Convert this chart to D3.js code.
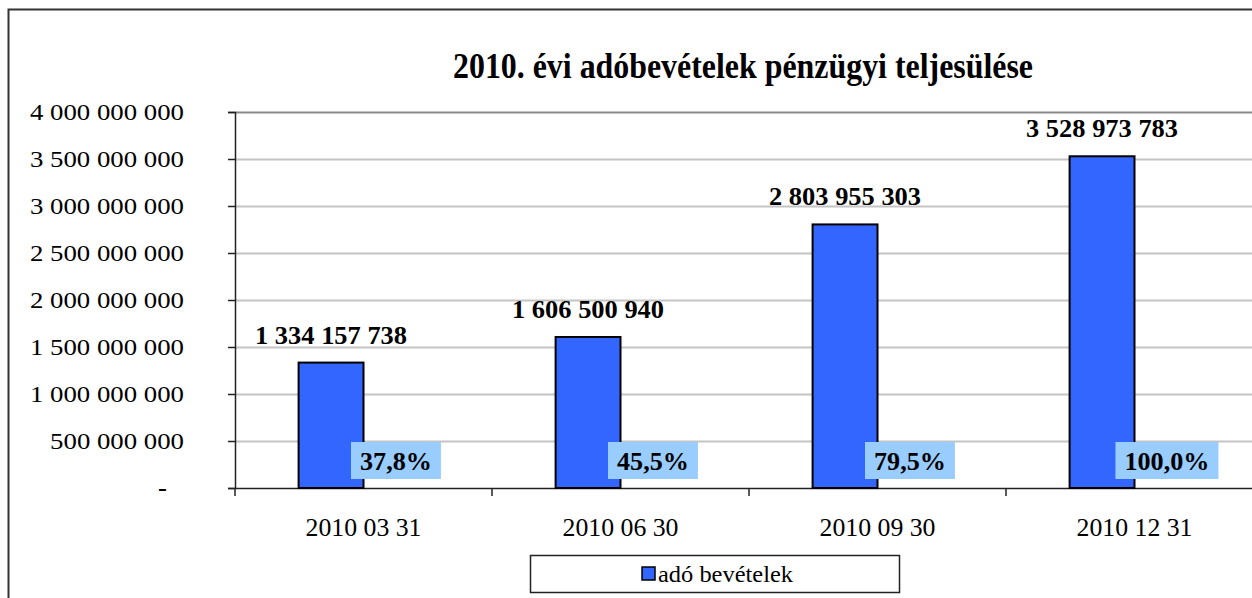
<!DOCTYPE html>
<html>
<head>
<meta charset="utf-8">
<script src="https://cdn.jsdelivr.net/npm/d3@7"></script>
<style>
  body { margin: 0; background: #fff; }
  svg, svg text { font-family: "Liberation Serif", "Times New Roman", "DejaVu Serif", serif; }
</style>
</head>
<body>
<div id="chart"></div>
<script>
// chart data
const title = '2010. évi adóbevételek pénzügyi teljesülése';
const dates = ['2010 03 31', '2010 06 30', '2010 09 30', '2010 12 31'];
const revenues = [1334157738, 1606500940, 2803955303, 3528973783];
const percentLabels = ['37,8%', '45,5%', '79,5%', '100,0%'];
const yTicks = [0, 500000000, 1000000000, 1500000000, 2000000000, 2500000000, 3000000000, 3500000000, 4000000000];
const seriesNames = ['adó bevételek', 'teljesülés'];
const legendLabel = 'adó bevételek';

const W = 1252, H = 598;
const plot = { left: 235, right: 1263, top: 112, bottom: 488 };

const svg = d3.select('#chart').append('svg')
    .attr('width', W).attr('height', H);

// the source image is a bit wider per glyph than Liberation Serif,
// so stretch each text group by a factor taken from its widest label
function stretch(sel, refWidth) {
    const natural = d3.max(sel.nodes(), n => n.getComputedTextLength());
    const k = refWidth / natural;
    sel.each(function () {
        const w = this.getComputedTextLength();
        d3.select(this).attr('textLength', w * k).attr('lengthAdjust', 'spacingAndGlyphs');
    });
}

// outer frame
svg.append('rect')
    .attr('x', 8.5).attr('y', 9.5)
    .attr('width', 1260).attr('height', 620)
    .attr('fill', 'none').attr('stroke', '#333').attr('stroke-width', 2);

// group separator with spaces, zero shown as a dash
const fmt = v => v === 0 ? '-' : d3.format(',')(v).replace(/,/g, ' ');

const x0 = d3.scaleBand().domain(dates).range([plot.left, plot.right]).padding(0);
const x1 = d3.scaleBand().domain(seriesNames).range([0, x0.bandwidth()])
    .paddingInner(0).paddingOuter(0.98);
const y = d3.scaleLinear().domain([0, 4000000000]).range([plot.bottom, plot.top]);

// gridlines
svg.append('g').selectAll('line').data(yTicks.slice(1)).join('line')
    .attr('x1', plot.left).attr('x2', plot.right)
    .attr('y1', d => Math.round(y(d)) + 0.5).attr('y2', d => Math.round(y(d)) + 0.5)
    .attr('stroke', d => d === 4000000000 ? '#8a8a8a' : '#c4c4c4').attr('stroke-width', 2);

// y axis
const yAxis = svg.append('g')
    .attr('transform', `translate(${plot.left},0)`)
    .call(d3.axisLeft(y).tickValues(yTicks).tickFormat(fmt).tickSize(7).tickPadding(44))
    .attr('font-family', null);
yAxis.select('.domain').attr('stroke', '#222').attr('stroke-width', 1.5);
yAxis.selectAll('.tick line').attr('stroke', '#222').attr('stroke-width', 1.5);
yAxis.selectAll('text').style('font-size', '24px').attr('fill', '#000')
    .call(stretch, 154);
// accounting-style dash sits a little left of the digits
yAxis.selectAll('.tick').filter(d => d === 0).select('text')
    .attr('dx', -17).style('font-weight', 'bold');

// x axis
const xAxis = svg.append('g')
    .attr('transform', `translate(0,${plot.bottom})`)
    .call(d3.axisBottom(x0).tickSize(0).tickPadding(30))
    .attr('font-family', null);
xAxis.select('.domain').attr('stroke', '#222').attr('stroke-width', 1.5);
xAxis.selectAll('text').style('font-size', '26px').attr('fill', '#000')
    .call(stretch, 116);
// category separators
svg.append('g').selectAll('line').data(dates).join('line')
    .attr('x1', d => x0(d)).attr('x2', d => x0(d))
    .attr('y1', plot.bottom).attr('y2', plot.bottom + 8)
    .attr('stroke', '#222').attr('stroke-width', 1.5);

// bars
svg.append('g').selectAll('rect').data(revenues).join('rect')
    .attr('x', (d, i) => x0(dates[i]) + x1(seriesNames[0]))
    .attr('y', d => y(d))
    .attr('width', x1.bandwidth())
    .attr('height', d => y(0) - y(d))
    .attr('fill', '#3366ff')
    .attr('stroke', '#000').attr('stroke-width', 2);

// value labels
svg.append('g').selectAll('text').data(revenues).join('text')
    .attr('x', (d, i) => x0(dates[i]) + x1(seriesNames[0]) + x1.bandwidth() / 2)
    .attr('y', d => y(d) - 19)
    .attr('text-anchor', 'middle')
    .style('font-size', '25px').style('font-weight', 'bold')
    .text(fmt)
    .call(stretch, 152);

// percentage labels (second series)
const pg = svg.append('g').selectAll('g').data(percentLabels).join('g')
    .attr('transform', (d, i) => `translate(${x0(dates[i]) + x1(seriesNames[1]) + x1.bandwidth() / 2},${plot.bottom - 27.5})`);
const pbox = pg.append('rect').attr('fill', '#99ccff');
const ptext = pg.append('text')
    .attr('text-anchor', 'middle').attr('dy', '0.35em')
    .style('font-size', '26px').style('font-weight', 'bold')
    .text(d => d)
    .call(stretch, 85);
pbox.each(function (d, i) {
    const w = +ptext.nodes()[i].getAttribute('textLength') + 18;
    d3.select(this).attr('x', -w / 2).attr('y', -18.5).attr('width', w).attr('height', 37);
});

// title
svg.append('text')
    .attr('x', 743).attr('y', 78)
    .attr('text-anchor', 'middle')
    .style('font-size', '35px').style('font-weight', 'bold')
    .text(title)
    .call(stretch, 580);

// legend
const lg = svg.append('g').attr('transform', 'translate(530,555)');
lg.append('rect').attr('x', 0.5).attr('y', 0.5).attr('width', 369).attr('height', 37)
    .attr('fill', '#fff').attr('stroke', '#222').attr('stroke-width', 1.5);
lg.append('rect').attr('x', 112).attr('y', 12).attr('width', 13).attr('height', 13)
    .attr('fill', '#3366ff').attr('stroke', '#000').attr('stroke-width', 1.5);
lg.append('text').attr('x', 128).attr('y', 27)
    .style('font-size', '23px').text(legendLabel)
    .call(stretch, 135);
</script>
</body>
</html>
